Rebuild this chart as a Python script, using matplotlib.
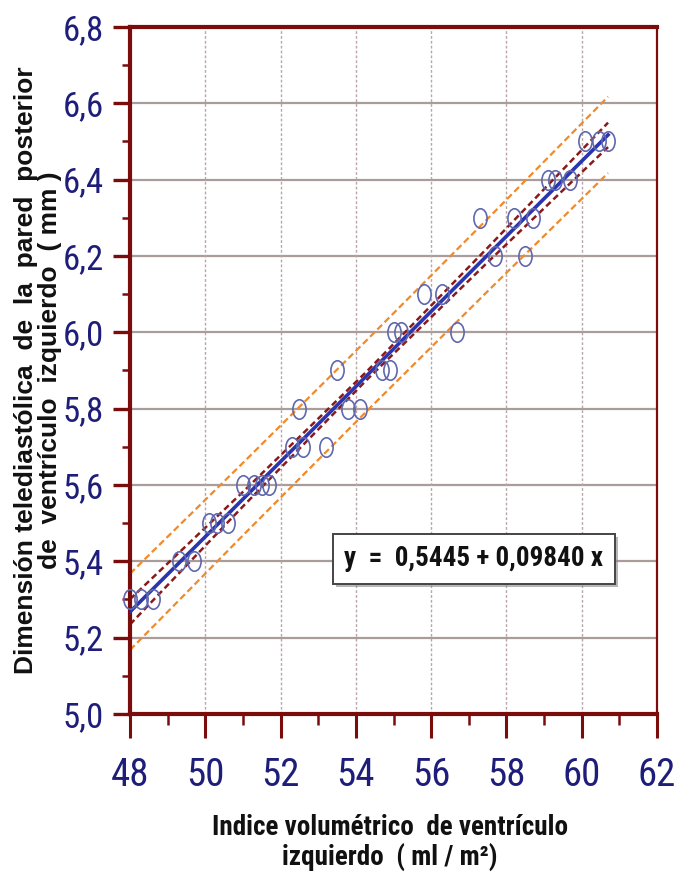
import numpy as np
import matplotlib
matplotlib.use("Agg")
import matplotlib.pyplot as plt
from matplotlib import font_manager as fm
from matplotlib.path import Path
import matplotlib.patheffects as pe

# ---------------- data ----------------
x_vals = [48.0, 48.3, 48.6,
          49.3, 49.7,
          50.1, 50.3, 50.6,
          51.0, 51.3, 51.5, 51.7,
          52.3, 52.6, 53.2,
          52.5, 53.8, 54.1,
          53.5, 54.7, 54.9,
          55.0, 55.2, 56.7,
          55.8, 56.3,
          57.7, 58.5,
          57.3, 58.2, 58.7,
          59.1, 59.3, 59.7,
          60.1, 60.45, 60.7]
y_vals = [5.3, 5.3, 5.3,
          5.4, 5.4,
          5.5, 5.5, 5.5,
          5.6, 5.6, 5.6, 5.6,
          5.7, 5.7, 5.7,
          5.8, 5.8, 5.8,
          5.9, 5.9, 5.9,
          6.0, 6.0, 6.0,
          6.1, 6.1,
          6.2, 6.2,
          6.3, 6.3, 6.3,
          6.4, 6.4, 6.4,
          6.5, 6.5, 6.5]

intercept = 0.5445
slope = 0.09840
line_x = [48.0, 60.7]

band_x = [48.0, 51.0, 54.3, 57.5, 60.7]
conf_half = [0.033, 0.019, 0.011, 0.019, 0.032]
pred_half = [0.100, 0.095, 0.093, 0.095, 0.100]

x_ticks = [48, 50, 52, 54, 56, 58, 60, 62]
x_ticklabels = ["48", "50", "52", "54", "56", "58", "60", "62"]
y_ticks = [5.0, 5.2, 5.4, 5.6, 5.8, 6.0, 6.2, 6.4, 6.6, 6.8]
y_ticklabels = ["5,0", "5,2", "5,4", "5,6", "5,8", "6,0", "6,2", "6,4", "6,6", "6,8"]

eq_text = "y  =  0,5445 + 0,09840 x"
ylabel = "Dimensión telediastólica  de  la  pared  posterior\nde  ventrículo  izquierdo  ( mm )"
xlabel = "Indice volumétrico  de ventrículo\nizquierdo  ( ml / m²)"

# ---------------- fonts ----------------
fonts = fm.fontManager.ttflist
names = {f.name for f in fonts}
cond_family = None
cond_stretch = "normal"
for cand in ["Liberation Sans Narrow", "Roboto Condensed", "Open Sans Condensed", "DejaVu Sans Condensed"]:
    if cand in names:
        cond_family = cand
        break
if cond_family is None:
    for f in fonts:
        if f.name in ("DejaVu Sans", "Roboto", "Open Sans", "Noto Sans") and (
                "condensed" in str(f.stretch) or (isinstance(f.stretch, int) and f.stretch < 500)):
            cond_family = f.name
            cond_stretch = "condensed"
            break
have_cond = cond_family is not None
if not have_cond:
    cond_family = "Liberation Sans"
regular = "Liberation Sans"
xtick_size = 28 if have_cond else 22
ytick_size = 25 if have_cond else 21

# ---------------- figure ----------------
W, H = 690, 875
fig = plt.figure(figsize=(W / 100, H / 100), dpi=100)
fig.patch.set_facecolor("white")
L, R, T, B = 130, 657, 27, 714
ax = fig.add_axes([L / W, 1 - B / H, (R - L) / W, (B - T) / H])

dark_red = "#7a0c0c"
navy = "#1e1e7a"

ax.set_xlim(48, 62)
ax.set_ylim(5.0, 6.8)

# grid
for yv in y_ticks[1:-1]:
    ax.axhline(yv, color="#ab9c9c", lw=1.6, zorder=0.5)
for xv in x_ticks[1:-1]:
    ax.axvline(xv, color="#b9a6a6", lw=1.0, ls=(0, (2, 1.5)), zorder=0.5)

# bands
bx = np.array(band_x)
fit_b = intercept + slope * bx
ax.plot(bx, fit_b + np.array(pred_half), color="#f08a2a", lw=1.6, ls=(0, (3, 1.6)), zorder=2)
ax.plot(bx, fit_b - np.array(pred_half), color="#f08a2a", lw=1.6, ls=(0, (3, 1.6)), zorder=2)
ax.plot(bx, fit_b + np.array(conf_half), color="#8a1a1a", lw=1.8, ls=(0, (2.5, 1.5)), zorder=2)
ax.plot(bx, fit_b - np.array(conf_half), color="#8a1a1a", lw=1.8, ls=(0, (2.5, 1.5)), zorder=2)

# regression line
lx = np.array(line_x)
ax.plot(lx, intercept + slope * lx, color="#2a35b0", lw=2.6, zorder=3)

# points (elliptical open markers)
circ = Path.unit_circle()
ell = Path(circ.vertices * np.array([0.68, 1.0]), circ.codes)
ax.plot(x_vals, y_vals, linestyle="none", marker=ell, markersize=14,
        markerfacecolor="none", markeredgecolor="#6068ad", markeredgewidth=1.2,
        zorder=4, clip_on=False)

# spines
for s in ["left", "bottom", "top"]:
    ax.spines[s].set_color(dark_red)
    ax.spines[s].set_linewidth(3)
ax.spines["right"].set_color(dark_red)
ax.spines["right"].set_linewidth(1.6)

# ticks
ax.set_xticks(x_ticks)
ax.set_xticklabels(x_ticklabels)
ax.set_yticks(y_ticks)
ax.set_yticklabels(y_ticklabels)
ax.set_xticks([49, 51, 53, 55, 57, 59, 61], minor=True)
ax.set_yticks([5.1, 5.3, 5.5, 5.7, 5.9, 6.1, 6.3, 6.5, 6.7], minor=True)
ax.tick_params(axis="x", which="major", direction="out", length=17, width=2.2,
               color=dark_red, pad=14, labelsize=xtick_size, labelcolor=navy)
ax.tick_params(axis="x", which="minor", direction="out", length=8, width=1.8, color=dark_red)
ax.tick_params(axis="y", which="major", direction="out", length=12, width=2.4,
               color=dark_red, pad=7, labelsize=ytick_size, labelcolor=navy)
ax.tick_params(axis="y", which="minor", direction="out", length=6, width=1.8, color=dark_red)
for lab in ax.get_xticklabels() + ax.get_yticklabels():
    lab.set_family(cond_family)
    lab.set_stretch(cond_stretch)

# axis labels
fig.text(38 / W, 1 - 370 / H, ylabel, rotation=90, ha="center", va="center",
         fontsize=19, fontweight="bold", family=regular, color="#111111",
         linespacing=1.05, multialignment="center")
fig.text(390 / W, 1 - 843 / H, xlabel, ha="center", va="center",
         fontsize=19.5, fontweight="bold", family=cond_family, stretch=cond_stretch,
         color="#111111", linespacing=1.15, multialignment="center")

# equation box
t = ax.text((474 - L) / (R - L), (B - 559) / (B - T), eq_text, transform=ax.transAxes,
            ha="center", va="center", fontsize=19.5, fontweight="bold", family=cond_family,
            stretch=cond_stretch, color="#111111", zorder=6,
            bbox=dict(boxstyle="square,pad=0.42", facecolor="white",
                      edgecolor="#444444", linewidth=1.4))
t.get_bbox_patch().set_path_effects([pe.withSimplePatchShadow(offset=(2, -2), shadow_rgbFace="#888888", alpha=0.6)])

fig.savefig("out.png", dpi=100, facecolor="white")
